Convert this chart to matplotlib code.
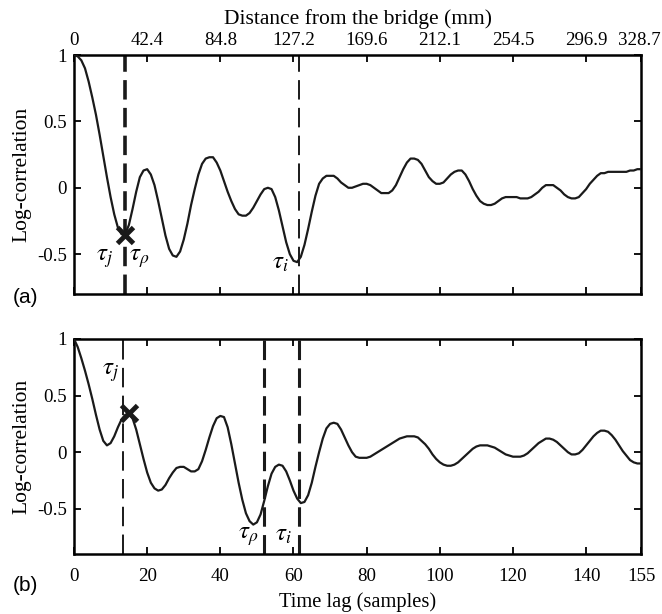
import numpy as np
import matplotlib
matplotlib.use('Agg')
import matplotlib.pyplot as plt
import matplotlib.transforms as mtransforms

plt.rcParams['font.family'] = 'Liberation Serif'
plt.rcParams['mathtext.fontset'] = 'stix'
plt.rcParams['lines.scale_dashes'] = False

# log-correlation, one value per lag sample (0..155)
corr_a = [1.0, 0.99, 0.96, 0.9, 0.8, 0.68, 0.55, 0.4, 0.24, 0.08,
          -0.07, -0.2, -0.3, -0.35, -0.35, -0.28, -0.16, -0.03, 0.08, 0.13,
          0.14, 0.1, 0.02, -0.1, -0.23, -0.36, -0.46, -0.51, -0.52, -0.48,
          -0.39, -0.27, -0.13, -0.01, 0.1, 0.18, 0.22, 0.23, 0.23, 0.19,
          0.13, 0.05, -0.03, -0.1, -0.16, -0.2, -0.21, -0.21, -0.19, -0.15,
          -0.1, -0.05, -0.01, 0.0, -0.01, -0.07, -0.17, -0.29, -0.41, -0.5,
          -0.55, -0.56, -0.52, -0.43, -0.31, -0.18, -0.06, 0.03, 0.07, 0.09,
          0.09, 0.09, 0.07, 0.04, 0.02, 0.0, 0.0, 0.01, 0.02, 0.03,
          0.03, 0.02, 0.0, -0.02, -0.04, -0.04, -0.04, -0.02, 0.02, 0.08,
          0.14, 0.19, 0.22, 0.22, 0.21, 0.18, 0.13, 0.08, 0.05, 0.03,
          0.03, 0.04, 0.07, 0.1, 0.12, 0.13, 0.13, 0.1, 0.05, -0.01,
          -0.06, -0.1, -0.12, -0.13, -0.13, -0.12, -0.1, -0.08, -0.07, -0.07,
          -0.07, -0.07, -0.08, -0.08, -0.08, -0.07, -0.05, -0.03, 0.0, 0.02,
          0.02, 0.02, 0.0, -0.02, -0.05, -0.07, -0.08, -0.08, -0.07, -0.04,
          -0.01, 0.03, 0.06, 0.09, 0.11, 0.11, 0.12, 0.12, 0.12, 0.12,
          0.12, 0.12, 0.13, 0.13, 0.14, 0.14]

corr_b = [1.0, 0.93, 0.83, 0.72, 0.6, 0.47, 0.33, 0.2, 0.1, 0.06,
          0.08, 0.14, 0.22, 0.29, 0.33, 0.34, 0.3, 0.2, 0.07, -0.06,
          -0.18, -0.27, -0.32, -0.34, -0.33, -0.29, -0.23, -0.18, -0.14, -0.13,
          -0.13, -0.15, -0.17, -0.17, -0.15, -0.08, 0.02, 0.13, 0.23, 0.3,
          0.32, 0.31, 0.22, 0.07, -0.1, -0.27, -0.42, -0.54, -0.61, -0.64,
          -0.62, -0.55, -0.43, -0.3, -0.19, -0.13, -0.11, -0.12, -0.17, -0.25,
          -0.34, -0.41, -0.45, -0.44, -0.38, -0.27, -0.13, 0.0, 0.12, 0.21,
          0.25, 0.26, 0.25, 0.2, 0.13, 0.06, 0.0, -0.04, -0.05, -0.05,
          -0.05, -0.04, -0.02, 0.0, 0.02, 0.04, 0.06, 0.08, 0.1, 0.12,
          0.13, 0.14, 0.14, 0.14, 0.13, 0.1, 0.07, 0.03, -0.02, -0.06,
          -0.09, -0.11, -0.12, -0.12, -0.11, -0.09, -0.06, -0.03, 0.0, 0.03,
          0.05, 0.06, 0.06, 0.06, 0.05, 0.04, 0.02, 0.0, -0.02, -0.03,
          -0.04, -0.04, -0.04, -0.03, -0.01, 0.02, 0.05, 0.08, 0.1, 0.12,
          0.12, 0.11, 0.09, 0.06, 0.03, 0.0, -0.02, -0.02, -0.01, 0.02,
          0.06, 0.1, 0.14, 0.17, 0.19, 0.19, 0.18, 0.15, 0.11, 0.06,
          0.01, -0.03, -0.07, -0.09, -0.1, -0.1]

lag = np.arange(len(corr_a))

# markers and dashed lag positions
mark_a = (14, -0.355)
mark_b = (15, 0.345)
tau_a = {'j': 14, 'rho': 14, 'i': 61.5}
tau_b = {'j': 13.5, 'rho': 52, 'i': 61.5}

xticks = [0, 20, 40, 60, 80, 100, 120, 140, 155]
mm_labels = ['0', '42.4', '84.8', '127.2', '169.6', '212.1', '254.5', '296.9', '328.7']

fig = plt.figure(figsize=(6.62, 6.14), dpi=100)
ax1 = fig.add_axes([0.1118, 0.5212, 0.8565, 0.3892])
ax2 = fig.add_axes([0.1118, 0.0977, 0.8565, 0.3502])

fs = 15.5     # axis labels
tick_fs = 13.6
tfs = 18      # tau labels
ink = '#1a1a1a'
dash = (0, (14, 6))

for ax in (ax1, ax2):
    for s in ax.spines.values():
        s.set_linewidth(1.8)
    ax.set_xlim(0, 155)
    ax.set_xticks(xticks)
    ax.set_yticks([-0.5, 0, 0.5, 1])
    ax.set_yticklabels(['-0.5', '0', '0.5', '1'])
    ax.tick_params(direction='in', length=5, width=1.3, labelsize=tick_fs,
                   top=True, bottom=True, left=True, right=True, pad=5)
    ax.set_ylabel('Log-correlation', fontsize=fs, labelpad=4)

# (a)
ax1.set_ylim(-0.8, 1)
ax1.plot(lag, corr_a, color=ink, lw=1.6, zorder=3, solid_joinstyle='round')
ax1.axvline(tau_a['rho'], color=ink, lw=2.6, linestyle=dash, zorder=2)
ax1.axvline(tau_a['i'], color=ink, lw=1.4, linestyle=dash, zorder=2)
ax1.plot(*mark_a, marker='x', color=ink, ms=11, mew=3.5, zorder=4)
ax1.xaxis.tick_top()
ax1.tick_params(axis='x', bottom=True, top=True, labelbottom=False,
                labeltop=True, pad=4)
ax1.set_xticklabels(mm_labels)
# last distance label nudged left so it stays inside the figure
last = ax1.get_xticklabels()[-1]
last.set_transform(last.get_transform() +
                   mtransforms.ScaledTranslation(-1.5 / 72, 0, fig.dpi_scale_trans))
ax1.xaxis.set_label_position('top')
ax1.set_xlabel('Distance from the bridge (mm)', fontsize=fs, labelpad=6)
ax1.text(8.3, -0.53, r'$\tau_j$', fontsize=tfs, ha='center', va='center')
ax1.text(17.8, -0.53, r'$\tau_\rho$', fontsize=tfs, ha='center', va='center')
ax1.text(56.5, -0.57, r'$\tau_i$', fontsize=tfs, ha='center', va='center')
fig.text(0.039, 0.516, '(a)', family='Liberation Sans', fontsize=15,
         ha='center', va='center')

# (b)
ax2.set_ylim(-0.9, 1)
ax2.plot(lag, corr_b, color=ink, lw=1.6, zorder=3, solid_joinstyle='round')
ax2.axvline(tau_b['j'], color=ink, lw=1.4, linestyle=dash, zorder=2)
ax2.axvline(tau_b['rho'], color=ink, lw=2.2, linestyle=dash, zorder=2)
ax2.axvline(tau_b['i'], color=ink, lw=2.2, linestyle=dash, zorder=2)
ax2.plot(*mark_b, marker='x', color=ink, ms=11, mew=3.5, zorder=4)
ax2.set_xticklabels([str(t) for t in xticks])
ax2.tick_params(axis='x', pad=10)
ax2.set_xlabel('Time lag (samples)', fontsize=14.8, labelpad=5)
ax2.text(10, 0.7, r'$\tau_j$', fontsize=tfs, ha='center', va='center')
ax2.text(47.5, -0.75, r'$\tau_\rho$', fontsize=tfs, ha='center', va='center')
ax2.text(57.3, -0.73, r'$\tau_i$', fontsize=tfs, ha='center', va='center')
fig.text(0.039, 0.047, '(b)', family='Liberation Sans', fontsize=15,
         ha='center', va='center')

fig.savefig('out.png', dpi=100)
